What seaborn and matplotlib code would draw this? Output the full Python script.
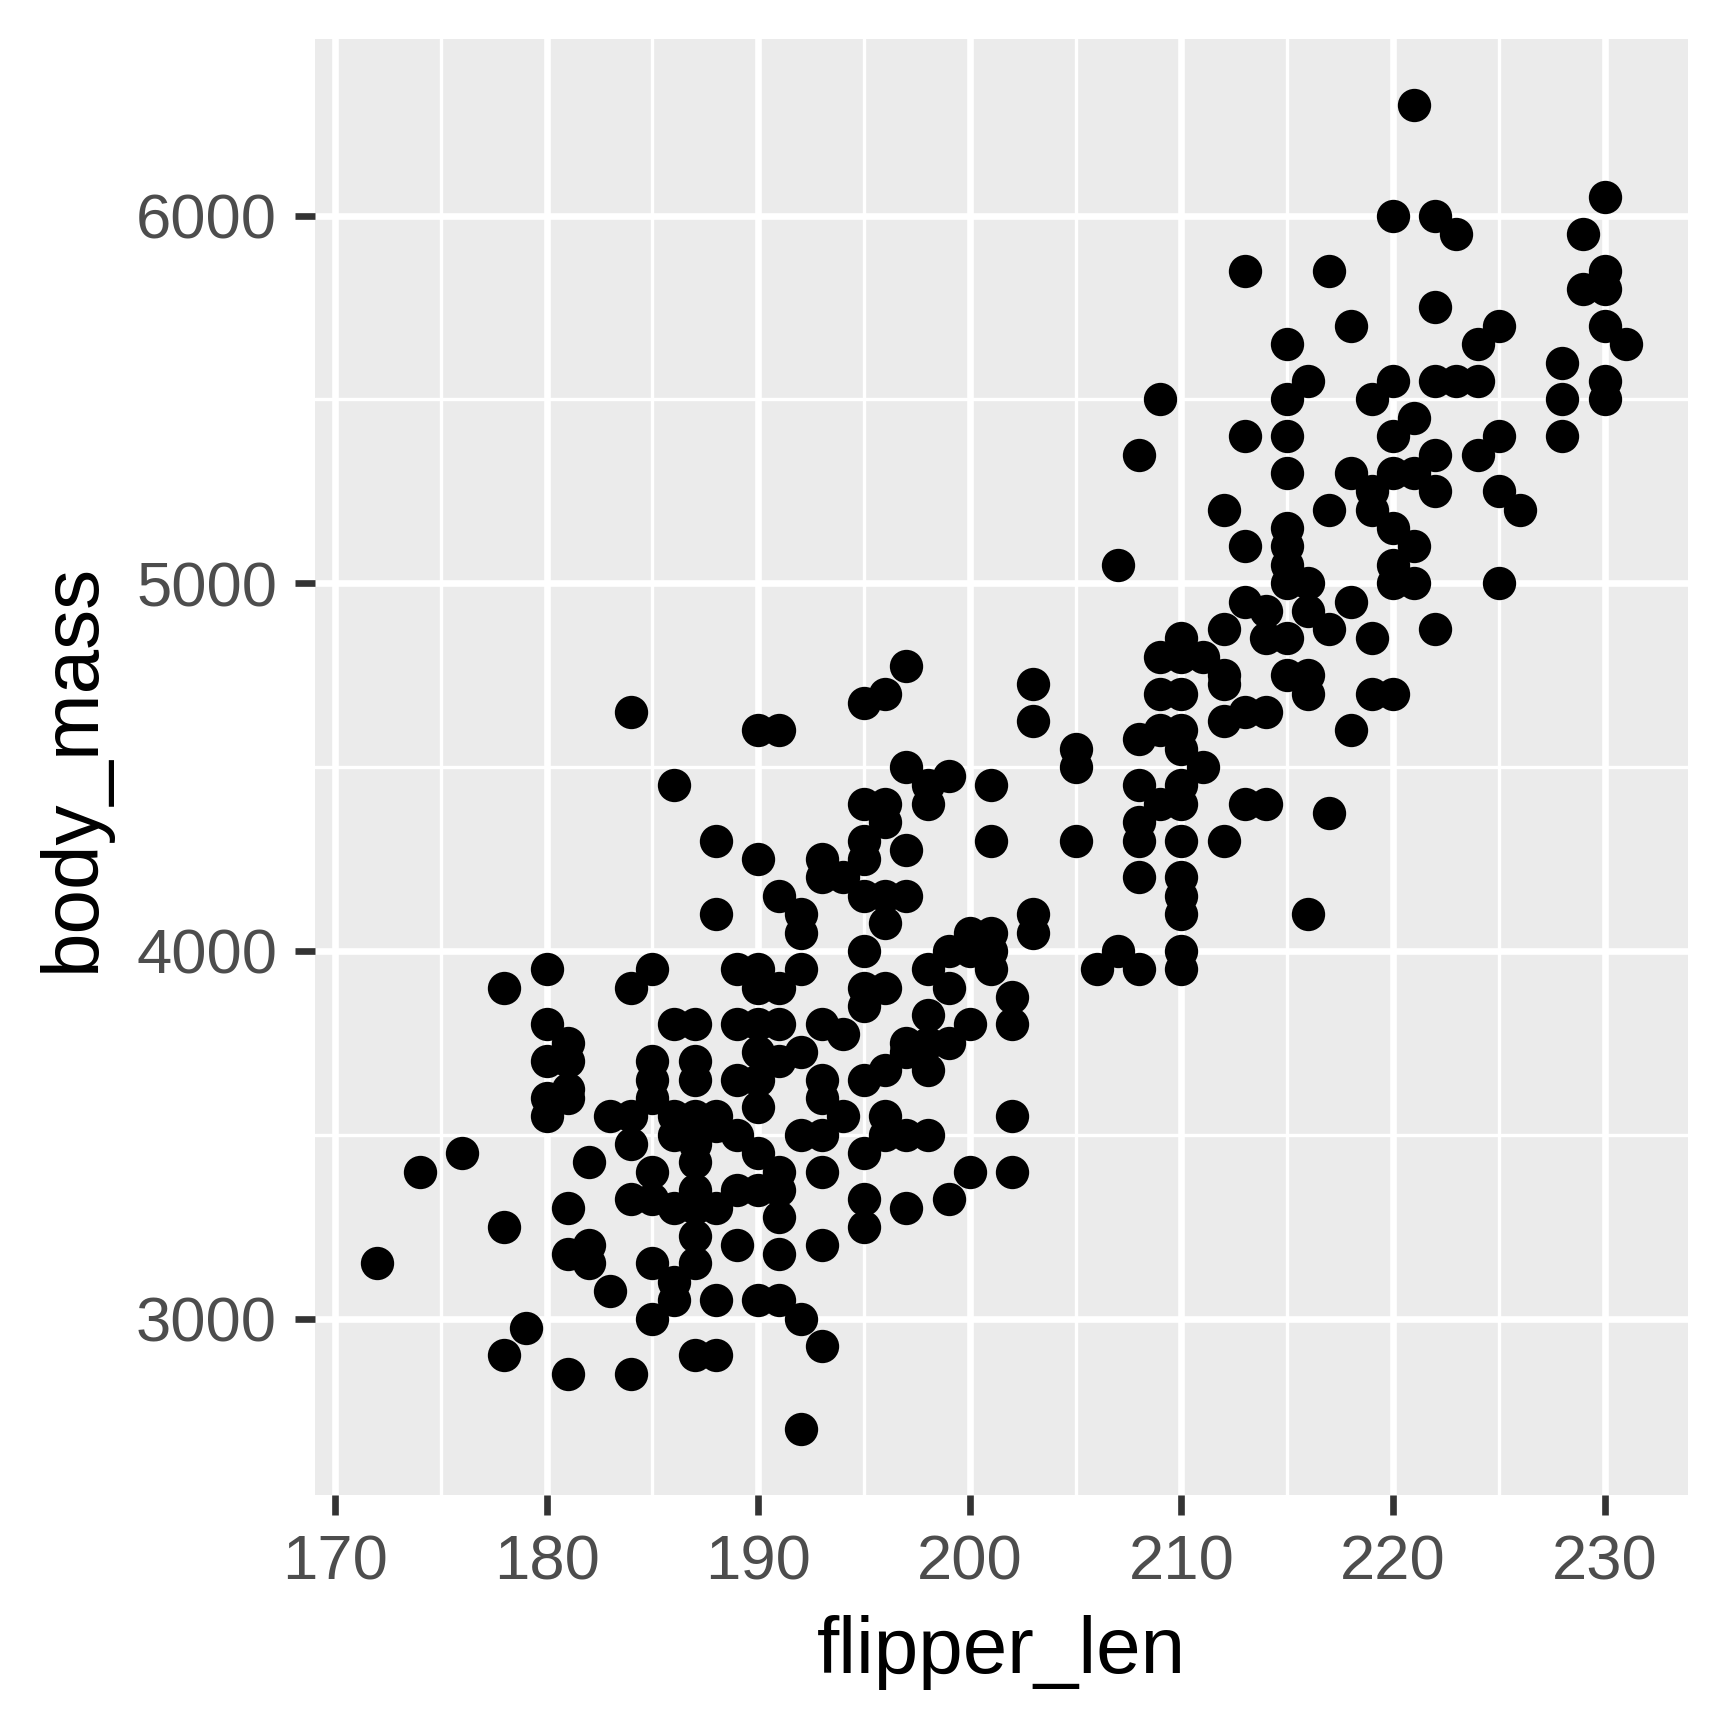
import pandas as pd
import numpy as np
import matplotlib
matplotlib.use("Agg")
import matplotlib.pyplot as plt
import seaborn as sns
from matplotlib.ticker import MultipleLocator

# points, grouped by flipper length
flipper_len = (
    [172, 174, 176, 178, 178, 178, 179]
    + [180] * 5 + [181] * 7 + [182] * 3 + [183] * 2 + [184] * 6
    + [185] * 8 + [186] * 7 + [187] * 11 + [188] * 7 + [189] * 6
    + [190] * 11 + [191] * 10 + [192] * 7 + [193] * 9 + [194] * 3
    + [195] * 12 + [196] * 9 + [197] * 8 + [198] * 7 + [199] * 5
    + [200] * 4 + [201] * 5 + [202] * 4 + [203] * 4 + [205] * 3
    + [206, 207, 207] + [208] * 7 + [209] * 5 + [210] * 13 + [211] * 2
    + [212] * 6 + [213] * 6 + [214] * 4 + [215] * 10 + [216] * 6
    + [217] * 4 + [218] * 4 + [219] * 5 + [220] * 8 + [221] * 5
    + [222] * 6 + [223] * 2 + [224] * 3 + [225] * 4 + [226]
    + [228] * 3 + [229] * 2 + [230] * 6 + [231]
)
body_mass = (
    [3150, 3400, 3450, 3250, 3900, 2900, 2975]
    + [3950, 3800, 3700, 3600, 3550]
    + [3750, 3700, 3625, 3600, 3300, 3175, 2850]
    + [3425, 3200, 3150]
    + [3550, 3075]
    + [3900, 3550, 3475, 3325, 2850, 4650]
    + [3950, 3700, 3650, 3600, 3400, 3325, 3150, 3000]
    + [3800, 3550, 3500, 3300, 3100, 3050, 4450]
    + [3800, 3700, 3650, 3550, 3475, 3425, 3350, 3300, 3225, 3150, 2900]
    + [3550, 3525, 3300, 3050, 2900, 4300, 4100]
    + [3950, 3800, 3650, 3500, 3350, 3200]
    + [3950, 3900, 3800, 3725, 3650, 3575, 3450, 3350, 3050, 4600, 4250]
    + [3900, 3800, 3700, 3400, 3350, 3275, 3175, 3050, 4600, 4150]
    + [3725, 3500, 3000, 2700, 3950, 4100, 4050]
    + [3800, 3650, 3600, 3500, 3400, 3200, 2925, 4250, 4200]
    + [3775, 3550, 4200]
    + [3850, 3650, 3450, 3325, 3250, 4675, 4400, 4300, 4250, 4150, 4000, 3900]
    + [3675, 3550, 3500, 4700, 4400, 4350, 4150, 4075, 3900]
    + [3750, 3725, 3500, 3300, 4775, 4500, 4275, 4150]
    + [3825, 3750, 3675, 3500, 4450, 4400, 3950]
    + [3750, 3325, 4475, 4000, 3900]
    + [3800, 3400, 4050, 4000]
    + [4450, 4300, 4050, 4000, 3950]
    + [3875, 3800, 3550, 3400]
    + [4725, 4625, 4100, 4050]
    + [4550, 4500, 4300]
    + [3950, 4000, 5050]
    + [3950, 4200, 4300, 4350, 4450, 4575, 5350]
    + [4400, 4600, 4700, 4800, 5500]
    + [4850, 4800, 4700, 4600, 4550, 4450, 4400, 4300, 4200, 4150, 4100, 4000, 3950]
    + [4800, 4500]
    + [4875, 4750, 4725, 4625, 4300, 5200]
    + [5850, 5400, 5100, 4950, 4650, 4400]
    + [4925, 4850, 4650, 4400]
    + [5650, 5500, 5400, 5300, 5150, 5100, 5050, 5000, 4850, 4750]
    + [5550, 5000, 4925, 4750, 4700, 4100]
    + [5850, 5200, 4875, 4375]
    + [5700, 5300, 4950, 4600]
    + [5500, 5250, 5200, 4850, 4700]
    + [6000, 5550, 5400, 5300, 5150, 5050, 5000, 4700]
    + [6300, 5450, 5300, 5100, 5000]
    + [6000, 5750, 5550, 5350, 5250, 4875]
    + [5950, 5550]
    + [5650, 5550, 5350]
    + [5700, 5400, 5250, 5000]
    + [5200]
    + [5600, 5500, 5400]
    + [5950, 5800]
    + [6050, 5850, 5800, 5700, 5550, 5500]
    + [5650]
)

x_ticks = [170, 180, 190, 200, 210, 220, 230]
y_ticks = [3000, 4000, 5000, 6000]

df = pd.DataFrame({"flipper_len": flipper_len, "body_mass": body_mass})

sns.set_theme(style="darkgrid", rc={
    "axes.facecolor": "#EBEBEB",
    "grid.color": "white",
    "axes.edgecolor": "#EBEBEB",
})
plt.rcParams["font.family"] = ["Liberation Sans", "DejaVu Sans"]

fig = plt.figure(figsize=(7.2, 7.2), dpi=240)
ax = fig.add_axes([0.1823, 0.1348, 0.7946, 0.8426])

sns.scatterplot(data=df, x="flipper_len", y="body_mass", ax=ax,
                color="black", s=100, linewidth=0, zorder=3)

# ggplot-style 5% expansion
xmin, xmax = min(flipper_len), max(flipper_len)
ymin, ymax = min(body_mass), max(body_mass)
ax.set_xlim(xmin - 0.05 * (xmax - xmin), xmax + 0.05 * (xmax - xmin))
ax.set_ylim(ymin - 0.05 * (ymax - ymin), ymax + 0.05 * (ymax - ymin))

ax.set_xticks(x_ticks)
ax.set_yticks(y_ticks)
ax.xaxis.set_minor_locator(MultipleLocator(5))
ax.yaxis.set_minor_locator(MultipleLocator(500))
ax.grid(which="major", color="white", linewidth=2.0)
ax.grid(which="minor", color="white", linewidth=1.0)
ax.set_axisbelow(True)
for sp in ax.spines.values():
    sp.set_visible(False)

ax.tick_params(axis="both", which="major", length=6, width=2.0, color="#333333",
               labelsize=19, labelcolor="#4D4D4D", pad=5.4,
               bottom=True, left=True)
ax.tick_params(axis="both", which="minor", length=0)

ax.set_xlabel("flipper_len", fontsize=24, color="black", labelpad=7)
ax.set_ylabel("body_mass", fontsize=24, color="black", labelpad=7.5)

fig.savefig("out.png", dpi=240, facecolor="white")
